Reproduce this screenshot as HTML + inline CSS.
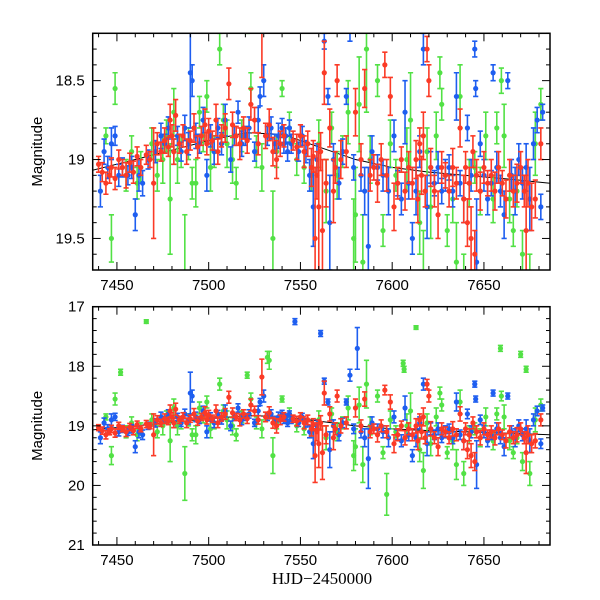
<!DOCTYPE html>
<html><head><meta charset="utf-8"><style>
html,body{margin:0;padding:0;background:#fff;}
svg{display:block;font-family:"Liberation Sans",sans-serif;}
</style></head><body>
<svg id="chart" width="600" height="600" viewBox="0 0 600 600"></svg>
<script>
const redX=[7440,7442,7444,7446,7447,7449,7451,7453,7455,7457,7459,7461,7463,7466,7468,7470,7472,7474,7476,7478,7479,7480,7481,7482,7484,7486,7488,7490,7492,7494,7496,7498,7499,7500,7502,7504,7505,7507,7509,7511,7513,7515,7517,7519,7521,7523,7525,7527,7529,7531,7533,7535,7537,7539,7541,7546,7548,7550,7552,7554,7556,7557,7558,7559,7560,7561,7562,7563,7564,7566,7568,7569,7570,7572,7575,7580,7583,7585,7588,7590,7592,7594,7596,7597,7599,7601,7603,7605,7607,7609,7611,7613,7614,7615,7616,7617,7618,7619,7620,7621,7623,7625,7627,7629,7631,7633,7635,7637,7639,7640,7641,7642,7643,7644,7645,7646,7648,7650,7652,7654,7656,7658,7660,7662,7664,7666,7668,7670,7672,7673,7674,7676,7678,7681];
const redY=[19.03,19.08,19.15,19.10,19.05,19.12,19.00,19.05,19.10,19.02,19.08,18.98,19.05,18.97,19.00,19.15,18.90,18.95,18.88,18.92,18.75,18.85,18.95,18.72,18.90,18.85,18.95,18.88,18.80,18.92,18.85,18.78,18.90,18.82,18.88,18.75,18.95,18.85,18.80,18.52,18.78,18.85,18.90,18.80,18.88,18.65,18.75,18.90,18.18,18.85,18.78,18.95,19.00,18.90,18.85,18.88,18.92,18.85,18.95,18.90,19.05,18.98,19.50,19.10,19.30,18.95,19.45,18.45,19.15,18.80,19.20,19.05,18.50,19.00,18.95,18.70,19.00,18.55,19.10,19.05,19.15,19.00,18.40,19.10,18.60,19.30,19.15,19.00,19.20,19.05,19.15,19.00,19.25,18.90,19.10,18.85,19.20,18.30,18.50,19.05,19.20,19.35,19.05,19.10,19.20,19.05,19.15,18.80,19.25,19.05,19.40,19.15,19.50,18.95,19.60,19.10,19.20,19.05,19.15,19.10,19.20,19.05,19.15,19.25,19.10,19.20,19.15,19.05,19.20,19.45,19.15,19.30,19.25,18.90];
const redE=[0.05,0.06,0.07,0.05,0.06,0.07,0.06,0.05,0.08,0.06,0.07,0.06,0.05,0.06,0.05,0.35,0.07,0.06,0.08,0.06,0.1,0.07,0.08,0.1,0.06,0.07,0.08,0.06,0.09,0.07,0.06,0.1,0.07,0.08,0.06,0.1,0.08,0.07,0.09,0.1,0.08,0.06,0.1,0.07,0.08,0.1,0.08,0.07,0.3,0.08,0.1,0.09,0.12,0.08,0.07,0.06,0.08,0.07,0.1,0.08,0.12,0.1,0.45,0.15,0.4,0.12,0.45,0.2,0.15,0.12,0.2,0.1,0.1,0.12,0.1,0.15,0.1,0.12,0.1,0.08,0.12,0.1,0.08,0.1,0.12,0.15,0.1,0.08,0.12,0.1,0.1,0.12,0.15,0.1,0.12,0.15,0.1,0.08,0.1,0.12,0.1,0.15,0.1,0.08,0.1,0.12,0.1,0.12,0.15,0.1,0.15,0.1,0.2,0.1,0.15,0.1,0.12,0.1,0.08,0.1,0.12,0.1,0.08,0.12,0.1,0.1,0.12,0.1,0.1,0.35,0.15,0.15,0.12,0.1];
const blueX=[7441,7443,7445,7447,7449,7451,7453,7456,7458,7460,7462,7464,7467,7471,7474,7476,7478,7481,7483,7485,7487,7489,7490,7491,7493,7495,7497,7499,7501,7503,7505,7507,7509,7512,7514,7516,7518,7520,7522,7525,7527,7528,7530,7532,7534,7536,7538,7540,7541,7542,7543,7544,7545,7547,7549,7551,7553,7555,7557,7559,7561,7563,7565,7566,7568,7571,7573,7575,7577,7579,7581,7583,7585,7587,7589,7592,7595,7598,7601,7603,7605,7607,7609,7611,7613,7615,7617,7619,7621,7623,7625,7627,7629,7631,7633,7635,7637,7639,7641,7643,7645,7645.5,7646,7648,7650,7652,7654,7655,7657,7659,7661,7663,7665,7667,7669,7671,7673,7675,7677,7679,7681,7682];
const blueY=[19.20,18.95,19.05,18.90,18.85,19.10,19.05,19.10,19.05,19.35,19.10,19.15,19.00,18.95,18.85,18.90,18.80,18.95,18.85,18.95,18.80,18.90,18.45,18.50,18.85,18.90,18.75,19.10,18.85,18.95,18.80,18.90,18.75,19.00,18.85,18.70,18.90,18.85,18.80,18.95,18.75,18.60,18.50,18.85,18.80,18.90,18.85,18.80,18.90,18.85,18.95,18.80,18.90,17.25,18.95,18.85,18.95,19.10,19.30,19.00,17.45,18.25,18.60,19.40,19.00,19.15,18.95,18.60,18.15,19.05,17.70,19.10,19.20,19.55,18.95,19.05,19.10,19.20,18.85,19.15,19.25,18.70,19.15,19.50,19.20,18.95,18.30,19.30,19.05,19.15,19.05,19.20,19.10,19.05,19.20,18.60,19.15,19.25,18.80,19.10,18.30,18.55,19.65,18.90,19.10,19.25,19.15,18.45,19.05,19.20,19.35,18.50,19.10,19.20,19.00,19.15,19.05,19.25,18.90,18.75,19.30,18.70];
const blueE=[0.1,0.08,0.07,0.1,0.06,0.07,0.06,0.06,0.07,0.1,0.1,0.08,0.06,0.07,0.08,0.06,0.07,0.08,0.06,0.06,0.08,0.07,0.35,0.1,0.08,0.06,0.08,0.1,0.07,0.08,0.06,0.07,0.1,0.08,0.06,0.07,0.08,0.06,0.07,0.06,0.08,0.06,0.1,0.06,0.07,0.06,0.08,0.06,0.06,0.05,0.06,0.05,0.06,0.05,0.06,0.06,0.07,0.1,0.25,0.1,0.05,0.05,0.05,0.3,0.1,0.1,0.08,0.05,0.1,0.08,0.35,0.1,0.15,0.5,0.1,0.08,0.1,0.15,0.1,0.08,0.1,0.2,0.1,0.1,0.15,0.1,0.1,0.2,0.1,0.08,0.1,0.08,0.1,0.08,0.1,0.15,0.08,0.15,0.08,0.1,0.05,0.05,0.4,0.08,0.1,0.1,0.08,0.05,0.1,0.1,0.15,0.05,0.1,0.15,0.1,0.1,0.15,0.2,0.1,0.08,0.08,0.05];
const greenX=[7444,7447,7449,7452,7455,7458,7461,7463,7466,7469,7472,7475,7477,7479,7481,7483,7485,7487,7489,7491,7493,7495,7497,7499,7501,7503,7506,7508,7510,7513,7515,7518,7521,7523,7526,7529,7532,7533,7535,7537,7540,7544,7548,7552,7556,7560,7564,7567,7570,7573,7576,7579,7580,7582,7584,7586,7588,7592,7595,7597,7599,7602,7606,7606.5,7608,7610,7613,7615,7617,7619,7621,7624,7626,7627,7630,7633,7635,7637,7639,7642,7645,7648,7651,7655,7657,7659,7659.5,7661,7664,7666,7668,7670,7671,7673,7675,7678,7681];
const greenY=[18.85,19.50,18.55,18.10,19.10,18.95,19.15,19.05,17.25,18.90,19.10,19.00,18.85,19.25,18.70,19.00,18.95,19.80,18.90,19.15,19.15,18.70,18.85,18.60,19.05,18.95,18.30,18.75,18.90,19.00,19.15,18.85,18.15,18.55,18.95,19.05,17.85,17.90,19.50,18.95,18.55,18.80,19.00,19.05,19.10,18.90,19.20,18.80,19.10,18.95,18.70,19.50,19.35,18.65,19.65,18.30,19.00,18.50,19.45,20.15,18.90,19.10,17.95,18.05,19.00,18.75,17.35,19.40,19.75,18.95,19.30,18.85,18.45,18.65,19.45,19.25,19.65,18.60,19.80,19.15,19.05,19.20,18.85,19.25,18.80,17.70,18.50,18.85,19.25,19.45,19.20,17.80,19.60,18.05,19.80,18.90,18.65];
const greenE=[0.05,0.15,0.1,0.05,0.1,0.1,0.1,0.1,0.03,0.1,0.1,0.15,0.1,0.35,0.15,0.15,0.1,0.45,0.1,0.1,0.15,0.1,0.1,0.1,0.15,0.1,0.1,0.1,0.15,0.15,0.1,0.1,0.05,0.1,0.1,0.15,0.1,0.15,0.3,0.1,0.05,0.1,0.1,0.1,0.1,0.15,0.2,0.1,0.15,0.1,0.2,0.25,0.3,0.3,0.3,0.4,0.15,0.1,0.1,0.35,0.15,0.1,0.05,0.05,0.2,0.3,0.03,0.2,0.3,0.15,0.2,0.15,0.1,0.1,0.1,0.15,0.25,0.2,0.2,0.15,0.1,0.15,0.15,0.15,0.1,0.05,0.08,0.2,0.15,0.1,0.1,0.05,0.15,0.05,0.2,0.2,0.1];
const fitX=[7436,7460,7480,7500,7520,7540,7560,7580,7600,7620,7640,7660,7686];
const fitY=[19.07,19.00,18.94,18.88,18.83,18.84,18.92,19.00,19.05,19.08,19.10,19.12,19.15];
const xTicks=[7450,7500,7550,7600,7650];
const topYTicks=[18.5,19,19.5];
const botYTicks=[17,18,19,20,21];

const NS="http://www.w3.org/2000/svg";
const svg=document.getElementById('chart');
function mk(tag,attrs,parent){const e=document.createElementNS(NS,tag);for(const k in attrs)e.setAttribute(k,attrs[k]);(parent||svg).appendChild(e);return e;}
const X0=92.7,X1=550,D0=7436.8,D1=7686;
function xs(v){return X0+(v-D0)/(D1-D0)*(X1-X0);}
const panels=[
 {name:'top',y0:33.3,y1:270,d0:18.2,d1:19.7,major:topYTicks,minorStep:0.1},
 {name:'bottom',y0:306.7,y1:545,d0:17,d1:21,major:botYTicks,minorStep:0.2}
];
const series=[
 {n:'green',c:'#52e145',X:greenX,Y:greenY,E:greenE},
 {n:'blue',c:'#1e5ef0',X:blueX,Y:blueY,E:blueE},
 {n:'red',c:'#fb3a26',X:redX,Y:redY,E:redE}
];
panels.forEach((p,pi)=>{
 const ys=v=>p.y0+(v-p.d0)/(p.d1-p.d0)*(p.y1-p.y0);
 const g=mk('g',{});
 
 
 const cp=mk('clipPath',{id:'clip'+pi},g);
 mk('rect',{x:X0,y:p.y0,width:X1-X0,height:p.y1-p.y0},cp);
 const plot=mk('g',{'clip-path':'url(#clip'+pi+')'},g);
 const fit=mk('polyline',{points:fitX.map((v,i)=>xs(v)+','+ys(fitY[i])).join(' '),fill:'none',stroke:'#000','stroke-width':1},plot);
 
 
 series.forEach(s=>{
  const sg=mk('g',{stroke:s.c,fill:s.c,'stroke-width':1.6},plot);
  
  
  s.X.forEach((xv,i)=>{
   const cx=xs(xv),cy=ys(s.Y[i]),ya=ys(s.Y[i]-s.E[i]),yb=ys(s.Y[i]+s.E[i]);
   mk('line',{x1:cx,x2:cx,y1:ya,y2:yb},sg);
   mk('line',{x1:cx-2.6,x2:cx+2.6,y1:ya,y2:ya},sg);
   mk('line',{x1:cx-2.6,x2:cx+2.6,y1:yb,y2:yb},sg);
   const c=mk('circle',{cx:cx,cy:cy,r:2.6,stroke:'none'},sg);
   
   
  });
 });
 const fr=mk('rect',{x:X0,y:p.y0,width:X1-X0,height:p.y1-p.y0,fill:'none',stroke:'#000','stroke-width':1.5},g);
 
 
 const tk=mk('g',{stroke:'#000','stroke-width':1},g);
 for(let v=7440;v<=7680;v+=10){
  const x=xs(v),L=(v%50===0)?8:4;
  mk('line',{x1:x,x2:x,y1:p.y1,y2:p.y1-L},tk);
  mk('line',{x1:x,x2:x,y1:p.y0,y2:p.y0+L},tk);
 }
 const nMin=Math.round((p.d1-p.d0)/p.minorStep);
 for(let k=0;k<=nMin;k++){
  const v=p.d0+k*p.minorStep;
  const isMaj=p.major.some(m=>Math.abs(m-v)<1e-6);
  const y=ys(v),L=isMaj?8:4;
  mk('line',{x1:X0,x2:X0+L,y1:y,y2:y},tk);
  mk('line',{x1:X1,x2:X1-L,y1:y,y2:y},tk);
 }
 p.major.forEach(v=>{
  const t=mk('text',{x:X0-8,y:ys(v)+5,'text-anchor':'end','font-size':15,fill:'#000'},g);
  t.textContent=String(v);
  
  
 });
 xTicks.forEach(v=>{
  const t=mk('text',{x:xs(v),y:p.y1+20,'text-anchor':'middle','font-size':15,fill:'#000'},g);
  t.textContent=String(v);
  
  
 });
 const yt=mk('text',{x:0,y:0,transform:'translate(42,'+((p.y0+p.y1)/2)+') rotate(-90)','text-anchor':'middle','font-size':15,fill:'#000'},g);
 yt.textContent='Magnitude';
 
 
});
const xt=mk('text',{x:322,y:584,'text-anchor':'middle','font-size':17,fill:'#000','font-family':'Liberation Serif, serif'});
xt.textContent='HJD\u22122450000';


</script>
</body></html>
